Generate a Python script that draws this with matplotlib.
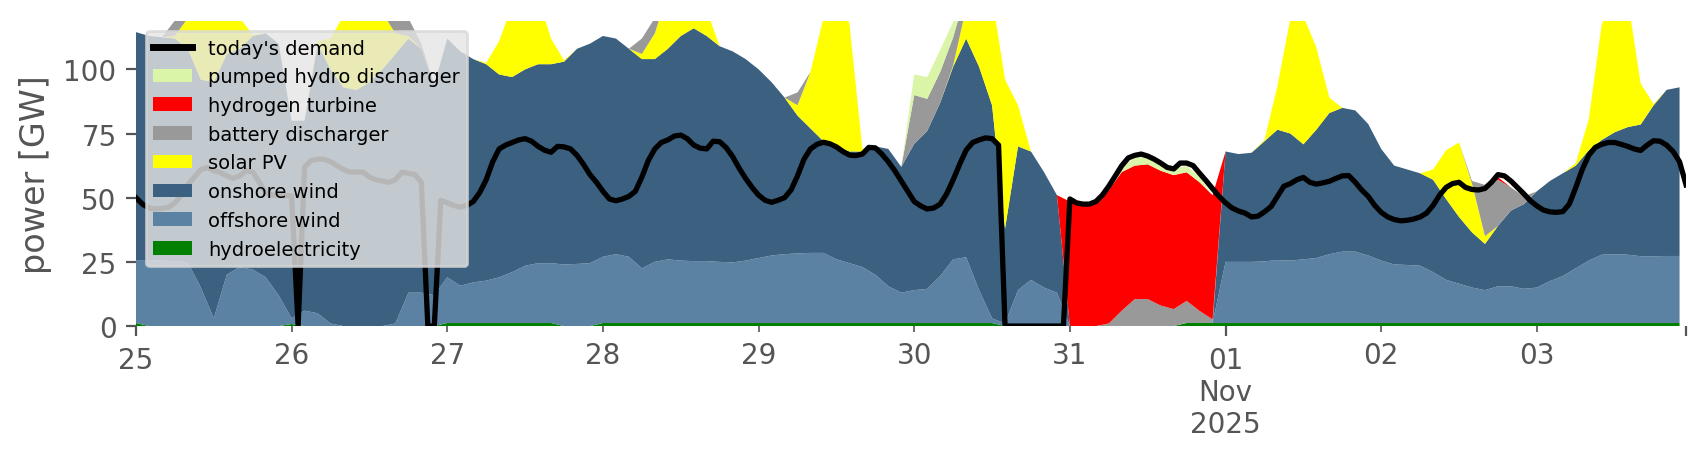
import matplotlib
matplotlib.use("Agg")
import matplotlib.pyplot as plt
import matplotlib.dates as mdates
from matplotlib.lines import Line2D
from matplotlib.patches import Patch
import pandas as pd

# 2-hourly generation values [GW], one row per day (Oct 25 .. Nov 3)
hydro = [
    1.2, 0, 0, 0, 0, 0, 0, 0, 0, 0, 0, 0,
    0.8, 0, 0, 0, 0, 0, 0, 0, 0, 0, 0, 0,
    1.2, 1.2, 1.2, 1.2, 1.2, 1.2, 1.2, 1.2, 1.2, 0, 0, 0,
    1.2, 1.2, 1.2, 1.2, 1.2, 1.2, 1.2, 1.2, 1.2, 1.2, 1.2, 1.2,
    1.2, 1.2, 1.2, 1.2, 1.2, 1.2, 1.2, 1.2, 1.2, 1.2, 1.2, 1.2,
    1.2, 1.2, 1.2, 1.2, 1.2, 1.2, 1.2, 0, 0, 0, 0, 0,
    0, 0, 0, 0, 0, 0, 0, 0, 0, 1.2, 1.2, 1.2,
    1.2, 1.2, 1.2, 1.2, 1.2, 1.2, 1.2, 1.2, 1.2, 1.2, 1.2, 1.2,
    1.2, 1.2, 1.2, 1.2, 1.2, 1.2, 1.2, 1.2, 1.2, 1.2, 1.2, 1.2,
    1.2, 1.2, 1.2, 1.2, 1.2, 1.2, 1.2, 1.2, 1.2, 1.2, 1.2, 1.2,
]
offshore = [
    24.5, 25.7, 25.5, 25.3, 24.8, 15, 3, 20, 23, 22, 19, 12,
    2.2, 6, 5, 1, 0, 0, 0, 0, 1, 13, 13, 12,
    17.8, 14.5, 15.8, 16.5, 17.8, 19.8, 22.3, 23.3, 23.3, 24, 24.2, 24.5,
    25.8, 26.8, 25.8, 21.3, 23.8, 24.8, 24.3, 24.1, 24.1, 23.8, 23.6, 24.3,
    25.3, 26.3, 26.8, 27.1, 27.3, 27.3, 24.8, 23.3, 21.8, 18.8, 14.3, 11.8,
    12.8, 13.3, 18.3, 24.8, 25.6, 12.8, 1.8, 1, 14, 18, 15, 13,
    0, 0, 0, 0, 0, 0, 0, 0, 0, 0, 0, 0,
    23.8, 23.8, 23.8, 24, 24.5, 24.3, 24.8, 25.3, 26.8, 27.8, 27.8, 26.3,
    24.3, 22.8, 22.6, 22.3, 19.8, 16.8, 15.3, 13.8, 12.8, 14.3, 14.3, 13.3,
    13.8, 16.3, 18.3, 21.3, 24.3, 26.6, 26.8, 26.6, 26, 26, 26.1, 26.1,
]
onshore = [
    88.8, 87.3, 87, 86.7, 83.2, 81, 92, 86, 85, 91, 95, 98,
    77, 74, 105, 99, 93, 92, 95, 100, 105, 99, 95, 82,
    93, 91.3, 87, 84.3, 79, 76, 76.5, 77.5, 77.5, 79, 83.8, 85.5,
    86, 84, 81, 81.5, 79, 82, 87.5, 90.7, 87.7, 84, 82.2, 78.5,
    73.5, 67.5, 61, 53.7, 48.5, 43.5, 44, 43.5, 45, 50, 53.5, 49,
    57, 61.5, 67.5, 75, 85.2, 87, 83, 37, 56, 50, 45, 38,
    0, 0, 0, 0, 0, 0, 0, 0, 0, 0, 0, 0,
    43, 42, 42.5, 46.8, 50.8, 49.5, 44.8, 50, 55, 56, 55, 51.2,
    43.5, 38.5, 37.2, 36, 36, 31.5, 26, 21.5, 18, 23.5, 29.5, 33,
    37.5, 39, 40, 40, 43, 44.7, 47.5, 49.7, 51.3, 58.8, 64.7, 65.7,
]
solar = [
    0, 0, 0, 1, 12, 30, 38, 28, 12, 0.5, 0, 0,
    0, 0, 1, 12, 28, 36, 34, 22, 8, 1, 0, 0,
    0, 0, 0, 0.5, 13, 28, 32, 26, 10, 0.5, 0, 0,
    0, 0, 0, 2, 10, 22, 32, 30, 10, 0, 0, 0,
    0, 0, 0, 4, 22, 48, 58, 50, 1, 0, 0, 0,
    0, 0, 0, 0.5, 12, 30, 42, 58, 16, 0, 0, 0,
    0, 0, 0, 0, 0, 0, 0, 0, 0, 0, 0, 0,
    0, 0, 0, 0.5, 17, 45, 50, 32, 6, 0, 0, 0,
    0, 0, 0, 0, 4, 19, 29, 19, 3, 0, 0, 0,
    0, 0, 0, 1, 12, 45, 55, 50, 16, 0.5, 0, 0,
]
battery = [
    0, 0, 0, 6, 2, 0, 0, 0, 0, 0, 0, 0,
    0, 0, 0, 0, 0, 0, 0, 0, 7, 7, 2, 0,
    0, 0, 0, 0, 0, 0, 0, 0, 0, 0, 0, 0,
    0, 0, 0, 6, 6, 0, 0, 0, 0, 0, 0, 0,
    0, 0, 0, 5, 0, 0, 0, 0, 0, 0, 0, 0,
    19, 12.5, 12, 11, 6, 0, 0, 0, 0, 0, 0, 0,
    0, 0, 0, 1, 6, 10.5, 10.5, 8, 6.6, 8.6, 4.7, 1.4,
    0, 0, 0, 0, 0, 0, 0, 0, 0, 0, 0, 0,
    0, 0, 0, 0, 0, 0, 0, 1, 20, 18, 9, 3,
    0, 0, 0, 0, 0, 0, 0, 0, 0, 0, 0, 0,
]
hydrogen = [
    0, 0, 0, 0, 0, 0, 0, 0, 0, 0, 0, 0,
    0, 0, 0, 0, 0, 0, 0, 0, 0, 0, 0, 0,
    0, 0, 0, 0, 0, 0, 0, 0, 0, 0, 0, 0,
    0, 0, 0, 0, 0, 0, 0, 0, 0, 0, 0, 0,
    0, 0, 0, 0, 0, 0, 0, 0, 0, 0, 0, 0,
    0, 0, 0, 0, 0, 0, 0, 0, 0, 0, 0, 0,
    48.5, 47.5, 48, 52, 54, 52, 52.5, 52.5, 52.2, 50.1, 50.1, 48.4,
    0, 0, 0, 0, 0, 0, 0, 0, 0, 0, 0, 0,
    0, 0, 0, 0, 0, 0, 0, 0, 0, 1, 0, 0,
    0, 0, 0, 0, 0, 0, 0, 0, 0, 0, 0, 0,
]
pumped = [
    0, 0, 0, 0, 0, 0, 0, 0, 0, 0, 0, 0,
    0, 0, 0, 0, 0, 0, 0, 0, 0, 0, 0, 0,
    0, 0, 0, 0, 0, 0, 0, 0, 0, 0, 0, 0,
    0, 0, 0, 0, 0, 0, 0, 0, 0, 0, 0, 0,
    0, 0, 0, 0, 0, 0, 0, 0, 0, 0, 0, 0,
    8, 8.5, 8.5, 6, 2, 0, 0, 0, 0, 0, 0, 0,
    0, 0, 0, 0.5, 2, 3, 3, 2.5, 2.5, 2.5, 2, 0,
    0, 0, 0, 0, 0, 0, 0, 0, 0, 0, 0, 0,
    0, 0, 0, 0, 0, 0, 0, 0, 0, 0, 0, 0,
    0, 0, 0, 0, 0, 0, 0, 0, 0, 0, 0, 0,
]

# hourly demand [GW], one row per day
demand = [
    50, 47.5, 46, 45.6, 45.8, 46.2, 48, 51, 55, 58, 61, 61.8, 60.5, 59.8, 58.5, 57.5, 58.5, 60.5, 60, 56, 52, 51, 50.8, 50.8,
    50.8, 0, 62, 64.5, 65, 65, 64, 62.5, 61, 60, 60, 60, 58, 57, 56.5, 56, 57, 59.9, 59.5, 59, 56, 0, 0, 49,
    48, 47, 46.3, 47, 48.5, 52, 57, 64, 69, 70.5, 71.5, 72.5, 73, 72, 70, 68.5, 67.7, 70, 69.8, 69, 66.5, 63, 59, 56,
    52.5, 49.5, 48.8, 49.5, 50.5, 52.5, 58, 64.5, 69, 71.5, 72.5, 74, 74.4, 73, 70.5, 69.3, 69, 72, 71.8, 69.5, 66, 61.5, 57.5, 54,
    51, 49, 48.2, 49, 50, 53, 58.5, 65, 69, 70.8, 71.6, 71, 69.8, 68, 66.6, 66.4, 67, 69.6, 69.4, 67, 64, 60.5, 56.5, 52.5,
    48.5, 46.8, 45.6, 46, 47.5, 51.5, 57, 63, 68.5, 71.5, 72.5, 73.3, 73, 70.5, 0, 0, 0, 0, 0, 0, 0, 0, 0, 0,
    49.5, 48, 47.5, 47.5, 48.5, 51, 54.5, 58.5, 62.5, 65.5, 66.5, 67, 66.2, 65, 63.5, 61.8, 61.2, 63.5, 63.5, 62.5, 59.5, 56.6, 53.5, 50.5,
    48, 46, 44.8, 44, 42.5, 42.8, 44.5, 46.5, 50.5, 54.5, 55.5, 57, 57.9, 56, 55.3, 55.8, 56.4, 57.5, 58.5, 58.6, 56, 53, 50.5, 47,
    44.3, 42.5, 41.5, 41, 41.2, 41.7, 42.5, 44, 47, 51, 54, 55.5, 56, 54, 53.2, 53, 53.6, 56, 59, 58.5, 56.5, 54, 51.5, 48.8,
    46.8, 45.2, 44.5, 44.3, 44.6, 47.5, 54, 61, 66.5, 69.6, 70.8, 71.5, 71.5, 70.8, 70, 69, 68.4, 70.5, 72.2, 72, 70.5, 68, 64, 55,
]

labels = ["hydroelectricity", "offshore wind", "onshore wind", "solar PV",
          "battery discharger", "hydrogen turbine", "pumped hydro discharger"]
colors = ["#008000", "#5B82A3", "#3B6080", "#FFFF00",
          "#999999", "#FF0000", "#DAF5A8"]
day_labels = ["25", "26", "27", "28", "29", "30", "31", "01\nNov\n2025", "02", "03"]

start = pd.Timestamp("2025-10-25 00:00")
t2 = mdates.date2num(pd.date_range(start, periods=len(hydro), freq="2h").to_pydatetime())
t1 = mdates.date2num(pd.date_range(start, periods=len(demand), freq="h").to_pydatetime())
days = mdates.date2num(pd.date_range(start, periods=len(day_labels), freq="D").to_pydatetime())

fig = plt.figure(figsize=(8.53, 2.3), dpi=200)
ax = fig.add_axes([0.0797, 0.289, 0.9086, 0.663])

ax.stackplot(t2, hydro, offshore, onshore, solar, battery, hydrogen, pumped,
             colors=colors, linewidth=0)
ax.plot(t1, demand, color="black", lw=1.9)

ax.set_xlim(t1[0], t1[-1])
ax.set_ylim(0, 118.8)
ax.set_yticks([0, 25, 50, 75, 100])
ax.set_ylabel("power [GW]", fontsize=12, color="#555555")

major_idx = [0, 7]
ax.set_xticks([days[i] for i in major_idx] + [t1[-1]])
ax.set_xticklabels([day_labels[i] for i in major_idx] + [""])
minor_idx = [i for i in range(len(day_labels)) if i not in major_idx]
ax.set_xticks([days[i] for i in minor_idx], minor=True)
ax.set_xticklabels([day_labels[i] for i in minor_idx], minor=True)

ax.tick_params(axis="both", which="both", colors="#555555", labelsize=10)
ax.tick_params(axis="x", which="minor", length=2, pad=3.4)
for s in ax.spines.values():
    s.set_visible(False)
ax.set_facecolor("white")

handles = [Line2D([], [], color="black", lw=2.5, label="today's demand")]
for lab, col in reversed(list(zip(labels, colors))):
    handles.append(Patch(facecolor=col, label=lab))
ax.legend(handles=handles, loc="upper left", fontsize=7, labelspacing=0.5,
          facecolor="#E5E5E5", framealpha=0.8, edgecolor="#d8d8d8")

fig.savefig("out.png", dpi=200)
